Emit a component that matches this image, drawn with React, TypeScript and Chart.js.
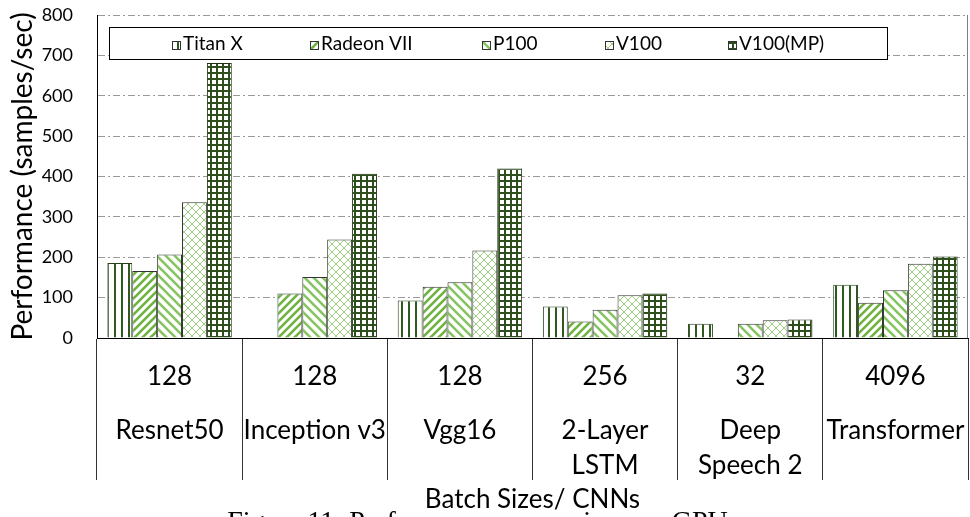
import React, { useEffect, useRef } from "react";
import { Chart, registerables } from "chart.js";

Chart.register(...registerables);

const batchSizes = ["128", "128", "128", "256", "32", "4096"];
const modelNames = [["Resnet50"], ["Inception v3"], ["Vgg16"], ["2-Layer", "LSTM"], ["Deep", "Speech 2"], ["Transformer"]];
const seriesNames = ["Titan X", "Radeon VII", "P100", "V100", "V100(MP)"];
const titanX = [186, null, 93, 78, 35, 132];
const radeonVII = [166, 110, 127, 41, null, 87];
const p100 = [207, 151, 138, 70, 35, 118];
const v100 = [336, 244, 217, 106, 44, 184];
const v100mp = [681, 407, 420, 110, 46, 202];
const yTicks = { min: 0, max: 800, step: 100 };
const yTitle = "Performance (samples/sec)";
const xTitle = "Batch Sizes/ CNNs";
const caption = "Figure 11: Performance comparison on GPUs";

const FONT = "Lato";
// legend item offsets (layout) from the legend box's left edge
const legendOffsets = [63, 201, 373, 496, 619];

function makePattern(ctx: CanvasRenderingContext2D, size: number, draw: (g: CanvasRenderingContext2D, s: number) => void) {
  const c = document.createElement("canvas");
  c.width = size;
  c.height = size;
  const g = c.getContext("2d")!;
  g.fillStyle = "#ffffff";
  g.fillRect(0, 0, size, size);
  draw(g, size);
  return ctx.createPattern(c, "repeat")!;
}

function buildPatterns(ctx: CanvasRenderingContext2D) {
  const vertical = makePattern(ctx, 7, (g) => {
    g.fillStyle = "#2f5a1e";
    g.fillRect(2, 0, 2, 7);
  });
  const fwd = makePattern(ctx, 8, (g, s) => {
    g.strokeStyle = "#6db33f";
    g.lineWidth = 2.6;
    g.beginPath();
    g.moveTo(-1, s + 1); g.lineTo(s + 1, -1);
    g.moveTo(-1, 1); g.lineTo(1, -1);
    g.moveTo(s - 1, s + 1); g.lineTo(s + 1, s - 1);
    g.stroke();
  });
  const back = makePattern(ctx, 9, (g, s) => {
    g.strokeStyle = "#86c460";
    g.lineWidth = 2.6;
    g.beginPath();
    g.moveTo(-1, -1); g.lineTo(s + 1, s + 1);
    g.moveTo(s - 1, -1); g.lineTo(s + 1, 1);
    g.moveTo(-1, s - 1); g.lineTo(1, s + 1);
    g.stroke();
  });
  const lattice = makePattern(ctx, 8, (g, s) => {
    g.strokeStyle = "#9dcf7e";
    g.lineWidth = 1;
    g.beginPath();
    g.moveTo(-1, -1); g.lineTo(s + 1, s + 1);
    g.moveTo(-1, s + 1); g.lineTo(s + 1, -1);
    g.stroke();
  });
  const grid = makePattern(ctx, 6, (g, s) => {
    g.fillStyle = "#2e4f1c";
    g.fillRect(0, 0, s, 2);
    g.fillRect(0, 0, 2, s);
  });
  return [vertical, fwd, back, lattice, grid];
}

const boxLegend = {
  id: "boxLegend",
  afterDatasetsDraw(chart: any) {
    const { ctx, chartArea } = chart;
    const x0 = chartArea.left + 12;
    const y0 = chartArea.top + 12;
    const w = 778;
    const h = 32;
    ctx.save();
    ctx.fillStyle = "#ffffff";
    ctx.fillRect(x0, y0, w, h);
    ctx.strokeStyle = "#000000";
    ctx.lineWidth = 1;
    ctx.strokeRect(Math.round(x0) + 0.5, Math.round(y0) + 0.5, w, h);
    ctx.font = `19px ${FONT}`;
    const sw = 8;
    const sgap = 3;
    const cy = y0 + h / 2 + 1;
    chart.data.datasets.forEach((ds: any, i: number) => {
      const x = x0 + legendOffsets[i];
      ctx.fillStyle = ds.backgroundColor;
      ctx.fillRect(Math.round(x), Math.round(cy - 3), sw, sw);
      ctx.strokeStyle = "#333";
      ctx.strokeRect(Math.round(x) + 0.5, Math.round(cy - 3) + 0.5, sw, sw);
      ctx.fillStyle = "#000";
      ctx.textAlign = "left";
      ctx.textBaseline = "middle";
      ctx.fillText(ds.label, x + sw + sgap, cy);
    });
    ctx.restore();
  },
};

const frameAndCaption = {
  id: "frameAndCaption",
  beforeDatasetsDraw(chart: any) {
    const { ctx, chartArea } = chart;
    ctx.save();
    ctx.strokeStyle = "#7f7f7f";
    ctx.lineWidth = 1;
    ctx.beginPath();
    const rx = Math.round(chartArea.right) - 0.5;
    ctx.moveTo(rx, chartArea.top);
    ctx.lineTo(rx, chartArea.bottom);
    ctx.stroke();
    ctx.restore();
  },
  afterDraw(chart: any) {
    const { ctx } = chart;
    ctx.save();
    ctx.font = `28px "Liberation Serif"`;
    ctx.fillStyle = "#000";
    ctx.textAlign = "center";
    ctx.textBaseline = "alphabetic";
    ctx.fillText(caption, 483, 530);
    ctx.restore();
  },
};

export default function App() {
  const ref = useRef<HTMLCanvasElement>(null);

  useEffect(() => {
    const canvas = ref.current!;
    const ctx = canvas.getContext("2d")!;
    const patterns = buildPatterns(ctx);
    const values = [titanX, radeonVII, p100, v100, v100mp];
    const borders = ["#26401a", "#333333", "#333333", "#333333", "#1f3314"];

    const chart = new Chart(canvas, {
      type: "bar",
      data: {
        labels: batchSizes,
        datasets: seriesNames.map((name, i) => ({
          label: name,
          data: values[i] as any,
          backgroundColor: patterns[i] as any,
          borderColor: borders[i],
          borderWidth: 1,
          categoryPercentage: 0.857,
          barPercentage: 1,
        })),
      },
      options: {
        responsive: false,
        animation: false,
        layout: { padding: { top: 15, right: 2, bottom: 2, left: 0 } },
        plugins: {
          legend: { display: false },
          tooltip: { enabled: false },
        },
        scales: {
          x: {
            type: "category",
            position: "bottom",
            offset: true,
            grid: {
              offset: true,
              drawOnChartArea: false,
              drawTicks: true,
              tickLength: 142,
              color: "#333333",
              lineWidth: 1,
            },
            border: { display: true, color: "#000000", width: 1 },
            ticks: {
              autoSkip: false,
              maxRotation: 0,
              minRotation: 0,
              padding: -119,
              color: "#000",
              font: { family: FONT, size: 26, lineHeight: 1.2 },
            },
            afterFit: (scale: any) => {
              scale.height = 70;
            },
          },
          x2: {
            type: "category",
            position: "bottom",
            labels: modelNames as any,
            offset: true,
            grid: { display: false, drawTicks: false },
            border: { display: false },
            ticks: {
              autoSkip: false,
              maxRotation: 0,
              minRotation: 0,
              padding: 5,
              color: "#000",
              font: { family: FONT, size: 26, lineHeight: "35px" as any },
            },
            title: {
              display: true,
              text: xTitle,
              color: "#000",
              font: { family: FONT, size: 26, lineHeight: 1.2 },
              padding: { top: 0, bottom: 0 },
            },
            afterFit: (scale: any) => {
              scale.height = 107;
            },
          },
          y: {
            min: yTicks.min,
            max: yTicks.max,
            grid: {
              color: "#9a9a9a",
              lineWidth: 1,
              drawTicks: true,
              tickLength: 21,
              tickColor: "rgba(0,0,0,0)",
            },
            border: { display: true, color: "#000000", width: 1, dash: [7, 3, 2, 3] },
            ticks: {
              stepSize: yTicks.step,
              padding: 3,
              color: "#000",
              font: { family: FONT, size: 18 },
            },
            title: {
              display: true,
              text: yTitle,
              color: "#000",
              font: { family: FONT, size: 28, lineHeight: 1.2 },
              padding: { top: 6, bottom: 0 },
            },
            afterFit: (scale: any) => {
              scale.width = 97;
            },
          },
        },
      },
      plugins: [frameAndCaption, boxLegend],
    });

    return () => chart.destroy();
  }, []);

  return (
    <div style={{ position: "absolute", left: 0, top: 0, width: 970, height: 517, background: "#fff" }}>
      <canvas ref={ref} width={970} height={517} style={{ width: 970, height: 517, display: "block" }} />
    </div>
  );
}
